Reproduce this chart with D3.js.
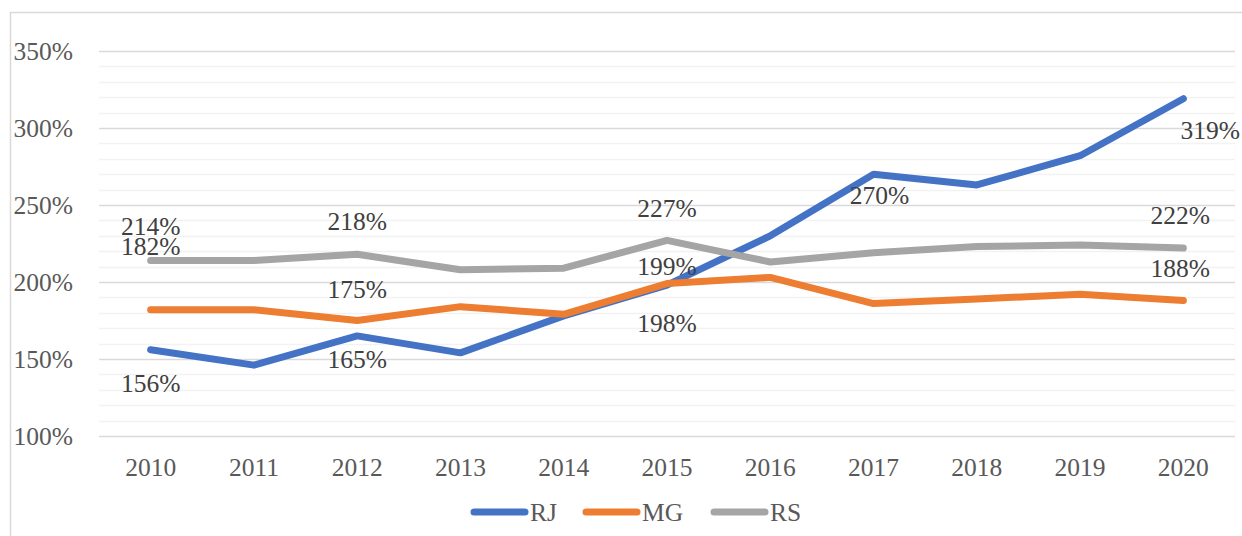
<!DOCTYPE html>
<html>
<head>
<meta charset="utf-8">
<script src="https://d3js.org/d3.v7.min.js"></script>
<style>
  body { margin: 0; background: #fff; }
  svg text { font-family: "Liberation Serif", "Tinos", "Times New Roman", "DejaVu Serif", serif !important; }
</style>
</head>
<body>
<svg id="chart"></svg>
<script>
// data
var years = ["2010", "2011", "2012", "2013", "2014", "2015", "2016", "2017", "2018", "2019", "2020"];
var rj = [156, 146, 165, 154, 178, 198, 230, 270, 263, 282, 319];
var mg = [182, 182, 175, 184, 179, 199, 203, 186, 189, 192, 188];
var rs = [214, 214, 218, 208, 209, 227, 213, 219, 223, 224, 222];
var yTicks = [100, 150, 200, 250, 300, 350];

var seriesNames = ["RJ", "MG", "RS"];
var seriesValues = [rj, mg, rs];
var colors = ["#4472C4", "#ED7D31", "#A5A5A5"];

// which points get a label, and where it sits relative to the point (px)
var labelSpots = [
  { s: 0, i: 0, dx: 0, dy: 34 }, { s: 1, i: 0, dx: 0, dy: -63 }, { s: 2, i: 0, dx: 0, dy: -34 },
  { s: 0, i: 2, dx: 0, dy: 24 }, { s: 1, i: 2, dx: 0, dy: -31 }, { s: 2, i: 2, dx: 0, dy: -33 },
  { s: 0, i: 5, dx: 0, dy: 38 }, { s: 1, i: 5, dx: 0, dy: -17 }, { s: 2, i: 5, dx: 0, dy: -32 },
  { s: 0, i: 7, dx: 6, dy: 21 },
  { s: 0, i: 10, dx: 27, dy: 32 }, { s: 1, i: 10, dx: -3, dy: -32 }, { s: 2, i: 10, dx: -3, dy: -33 }
];

var W = 1242, H = 536;
var FONT = "'Liberation Serif', Tinos, 'Times New Roman', 'DejaVu Serif', serif";
var svg = d3.select("#chart").attr("width", W).attr("height", H);

// outer frame
svg.append("rect")
  .attr("x", 10.5).attr("y", 12.5)
  .attr("width", W + 10).attr("height", H + 10)
  .attr("fill", "none").attr("stroke", "#D9D9D9").attr("stroke-width", 1.5);

var x = d3.scaleBand().domain(years).range([99, 1235]);
var y = d3.scaleLinear().domain([100, 350]).range([436, 51]);

// minor grid
svg.append("g").selectAll("line")
  .data(d3.range(100, 351, 10).filter(v => v % 50 !== 0))
  .enter().append("line")
  .attr("x1", 99).attr("x2", 1235)
  .attr("y1", d => Math.round(y(d)) + 0.5).attr("y2", d => Math.round(y(d)) + 0.5)
  .attr("stroke", "#F2F2F2").attr("stroke-width", 1.5);

// major grid
svg.append("g").selectAll("line")
  .data(yTicks)
  .enter().append("line")
  .attr("x1", 99).attr("x2", 1235)
  .attr("y1", d => Math.round(y(d)) + 0.5).attr("y2", d => Math.round(y(d)) + 0.5)
  .attr("stroke", "#D9D9D9").attr("stroke-width", 1.5);

// y axis labels
var yAxis = d3.axisLeft(y).tickValues(yTicks).tickFormat(d => d + "%").tickSize(0).tickPadding(0);
svg.append("g")
  .attr("transform", "translate(73,0)")
  .call(yAxis)
  .attr("font-family", FONT)
  .call(g => g.select(".domain").remove())
  .selectAll("text")
  .attr("font-size", 25.5).attr("fill", "#595959");

// x axis labels
var xAxis = d3.axisBottom(x).tickSize(0).tickPadding(0);
svg.append("g")
  .attr("transform", "translate(0,458)")
  .call(xAxis)
  .attr("font-family", FONT)
  .call(g => g.select(".domain").remove())
  .selectAll("text")
  .attr("font-size", 25.5).attr("fill", "#595959");

var line = d3.line()
  .x((d, i) => x(years[i]) + x.bandwidth() / 2)
  .y(d => y(d));

svg.append("g").selectAll("path")
  .data(seriesValues)
  .enter().append("path")
  .attr("d", line)
  .attr("fill", "none")
  .attr("stroke", (d, i) => colors[i])
  .attr("stroke-width", 7)
  .attr("stroke-linecap", "round")
  .attr("stroke-linejoin", "round");

// data labels
svg.append("g").attr("font-family", FONT).selectAll("text")
  .data(labelSpots)
  .enter().append("text")
  .attr("x", d => x(years[d.i]) + x.bandwidth() / 2 + d.dx)
  .attr("y", d => y(seriesValues[d.s][d.i]) + d.dy)
  .attr("text-anchor", "middle")
  .attr("dominant-baseline", "central")
  .attr("font-size", 25.5)
  .attr("fill", "#404040")
  .text(d => seriesValues[d.s][d.i] + "%");

// legend
var legendX = [471, 583, 711];
var lg = svg.append("g").attr("font-family", FONT).selectAll("g")
  .data(seriesNames)
  .enter().append("g")
  .attr("transform", (d, i) => "translate(" + legendX[i] + ",512)");
lg.append("line")
  .attr("x1", 3).attr("x2", 54).attr("y1", 0).attr("y2", 0)
  .attr("stroke", (d, i) => colors[i]).attr("stroke-width", 7).attr("stroke-linecap", "round");
lg.append("text")
  .attr("x", 59).attr("y", 0)
  .attr("dominant-baseline", "central")
  .attr("font-size", 25.5).attr("fill", "#595959")
  .text(d => d);
</script>
</body>
</html>
